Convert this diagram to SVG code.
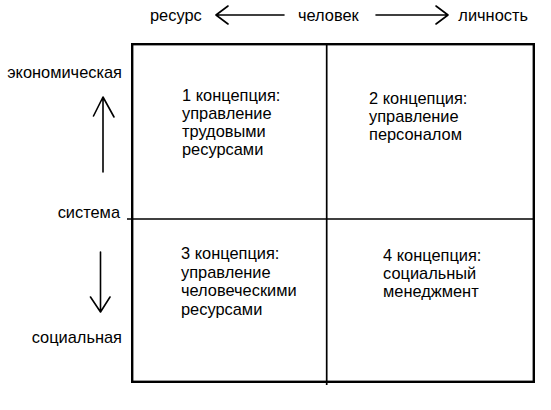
<svg xmlns="http://www.w3.org/2000/svg" width="551" height="410" viewBox="0 0 551 410">
<style>
  text { font-family: "Liberation Sans", Arial, sans-serif; font-size: 16.4px; fill: #000; }
  .side { text-anchor: end; }
  .ln { stroke: #000; fill: none; }
  .arr { stroke: #000; stroke-width: 1.6; fill: none; stroke-linecap: round; stroke-linejoin: round; }
</style>
<rect width="551" height="410" fill="#fff"/>
<g id="axis-labels">
  <text x="150" y="21">ресурс</text>
  <text x="298" y="21">человек</text>
  <text x="528" y="21" text-anchor="end">личность</text>
  <text class="side" x="122" y="78">экономическая</text>
  <text class="side" x="120" y="218">система</text>
  <text class="side" x="122" y="343">социальная</text>
</g>
<g id="connectors">
  <path class="arr" d="M284,15 H216 M228,6 L216,15 L228,24"/>
  <path class="arr" d="M376,15 H448 M436,6 L448,15 L436,24"/>
  <path class="arr" d="M103,172 V97 M93.5,116 L103,97 L114,117"/>
  <path class="arr" d="M100.5,252 V312 M90.5,297 L100.5,312 L110,297"/>
</g>
<g id="grid">
  <rect class="ln" x="132.2" y="44.2" width="401.6" height="337.6" stroke-width="2.4"/>
  <line class="ln" x1="326.7" y1="44" x2="326.7" y2="385" stroke-width="1.7"/>
  <line class="ln" x1="127" y1="219" x2="534" y2="219" stroke-width="1.6"/>
</g>
<g id="q1">
  <text x="182" y="101">1 концепция:<tspan x="182" dy="18">управление</tspan><tspan x="182" dy="18">трудовыми</tspan><tspan x="182" dy="18">ресурсами</tspan></text>
</g>
<g id="q2">
  <text x="369" y="104">2 концепция:<tspan x="369" dy="18">управление</tspan><tspan x="369" dy="18">персоналом</tspan></text>
</g>
<g id="q3">
  <text x="181" y="259">3 концепция:<tspan x="181" dy="18.5">управление</tspan><tspan x="181" dy="18.5">человеческими</tspan><tspan x="181" dy="18.5">ресурсами</tspan></text>
</g>
<g id="q4">
  <text x="383" y="261">4 концепция:<tspan x="383" dy="18">социальный</tspan><tspan x="383" dy="18">менеджмент</tspan></text>
</g>
</svg>
